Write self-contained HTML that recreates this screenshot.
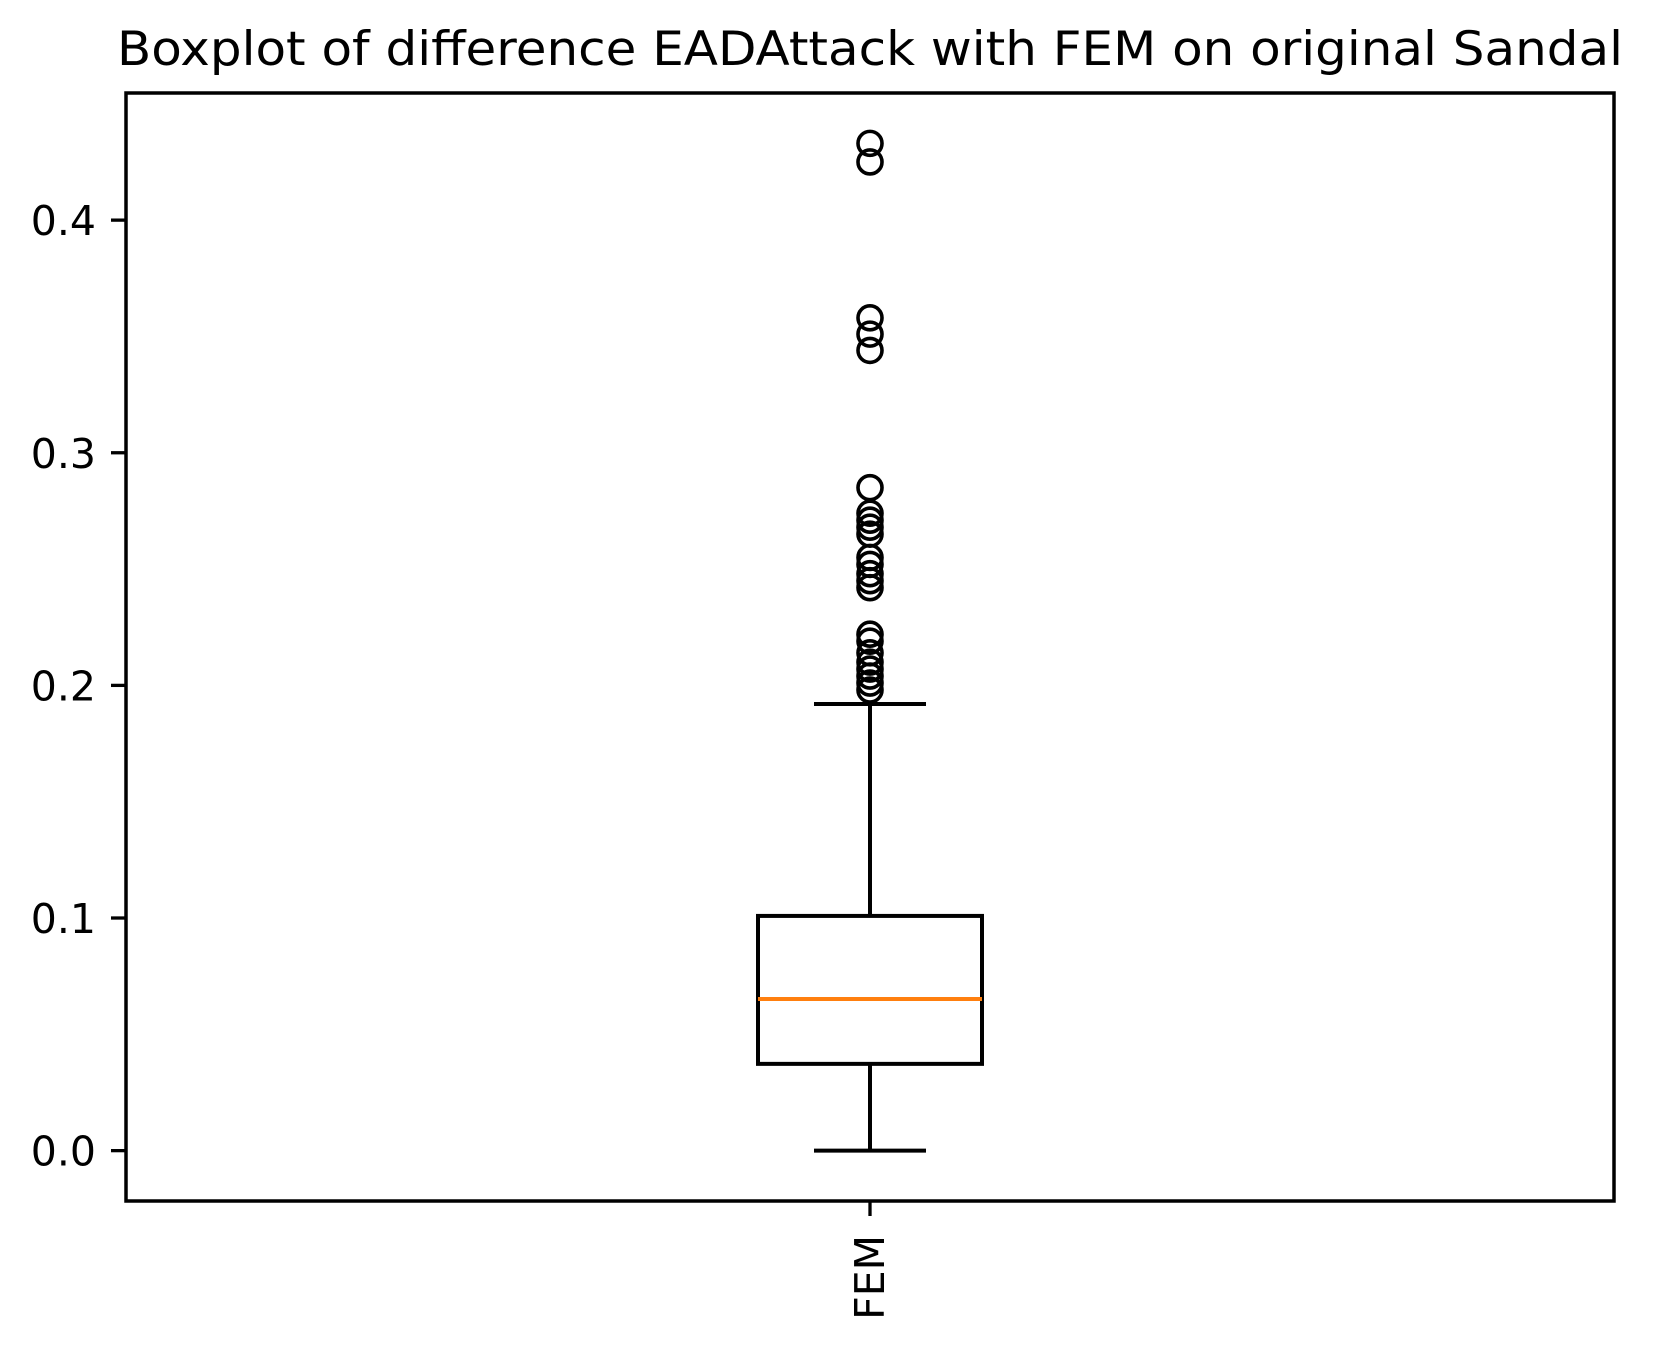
<!DOCTYPE html>
<html><head><meta charset="utf-8"><style>
body{margin:0;background:#fff}
svg{display:block;font-family:"DejaVu Sans","Liberation Sans",sans-serif}
</style></head><body>
<svg id="chart" width="1654" height="1347" viewBox="0 0 1654 1347">
<rect width="1654" height="1347" fill="#fff"/>
<text x="870" y="65" font-size="47" text-anchor="middle" textLength="1506" lengthAdjust="spacingAndGlyphs">Boxplot of difference EADAttack with FEM on original Sandal</text>
<g id="plot"></g>
</svg>
<script>
const categories = ["FEM"];
const whiskerLow = [0.0];
const q1 = [0.0373];
const median = [0.0652];
const q3 = [0.1009];
const whiskerHigh = [0.192];
const outliers = [0.433,0.425,0.358,0.351,0.344,0.285,0.274,0.271,0.268,0.265,0.255,0.252,0.248,0.245,0.242,0.222,0.219,0.214,0.210,0.207,0.204,0.201,0.198];
const yTicks = [0.0,0.1,0.2,0.3,0.4];
const yTickLabels = ["0.0","0.1","0.2","0.3","0.4"];

const L=126,R=1614,T=93,B=1201;
const yMin=-0.02165,yMax=0.45465;
const y=v=>B-(v-yMin)/(yMax-yMin)*(B-T);
const x=i=>L+(i+1)/(categories.length+1)*(R-L);
const NS="http://www.w3.org/2000/svg";
const g=document.getElementById('plot');
function mk(tag,attrs){const e=document.createElementNS(NS,tag);for(const k in attrs)e.setAttribute(k,attrs[k]);g.appendChild(e);return e;}

yTicks.forEach((t,i)=>{
  const ln=mk('line',{x1:L-15,x2:L,y1:y(t),y2:y(t),stroke:'#000','stroke-width':3.3});
  
  
  const tx=mk('text',{x:L-30,y:y(t)+15,'font-size':41,'text-anchor':'end'});
  tx.textContent=yTickLabels[i];
  
  
});

const bw=224;
categories.forEach((c,i)=>{
  const cx=x(i);
  const w1=mk('line',{x1:cx,x2:cx,y1:y(whiskerLow[i]),y2:y(q1[i]),stroke:'#000','stroke-width':4});
  
  
  const w2=mk('line',{x1:cx,x2:cx,y1:y(q3[i]),y2:y(whiskerHigh[i]),stroke:'#000','stroke-width':4});
  
  
  const c1=mk('line',{x1:cx-bw/4,x2:cx+bw/4,y1:y(whiskerLow[i]),y2:y(whiskerLow[i]),stroke:'#000','stroke-width':4});
  
  
  const c2=mk('line',{x1:cx-bw/4,x2:cx+bw/4,y1:y(whiskerHigh[i]),y2:y(whiskerHigh[i]),stroke:'#000','stroke-width':4});
  
  
  const bx=mk('rect',{x:cx-bw/2,y:y(q3[i]),width:bw,height:y(q1[i])-y(q3[i]),fill:'none',stroke:'#000','stroke-width':4});
  
  
  const md=mk('line',{x1:cx-bw/2,x2:cx+bw/2,y1:y(median[i]),y2:y(median[i]),stroke:'#ff7f0e','stroke-width':4});
  
  
  outliers.forEach(v=>{
    const o=mk('circle',{cx:cx,cy:y(v),r:12,fill:'none',stroke:'#000','stroke-width':3.6});
    
    
  });
  const tk=mk('line',{x1:cx,x2:cx,y1:B,y2:B+15,stroke:'#000','stroke-width':3.3});
  
  
  const lb=mk('text',{x:0,y:0,'font-size':41,'text-anchor':'end',transform:`translate(${cx+14},${B+34}) rotate(-90)`});
  lb.textContent=c;
  
  
});
const fr=mk('rect',{x:L,y:T,width:R-L,height:B-T,fill:'none',stroke:'#000','stroke-width':3.5});


</script>
</body></html>
